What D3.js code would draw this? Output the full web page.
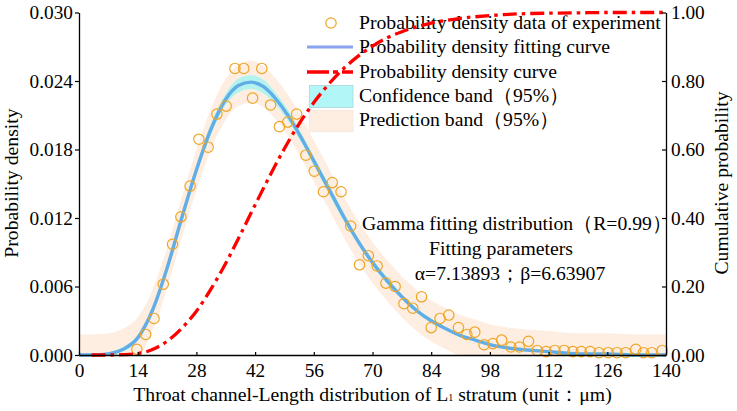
<!DOCTYPE html>
<html>
<head>
<meta charset="utf-8">
<script src="https://cdn.jsdelivr.net/npm/d3@7"></script>
<style>
  body { margin: 0; background: #fff; }
  svg text { font-family: "Liberation Serif", "Times New Roman", serif; fill: #000; }
</style>
</head>
<body>
<div id="vis"></div>
<script>
// experimental probability density points (length, density)
var dataX = [13.8, 15.9, 17.9, 20.1, 22.3, 24.3, 26.5, 28.6, 30.8, 32.9,
    35.1, 37.2, 39.3, 41.4, 43.6, 45.7, 47.8, 49.8, 51.9, 54.1,
    56.1, 58.3, 60.4, 62.5, 64.8, 66.9, 69.0, 71.1, 73.2, 75.4,
    77.5, 79.6, 81.7, 84.0, 86.1, 88.2, 90.5, 92.5, 94.4, 96.6,
    98.7, 100.8, 103.0, 105.0, 107.2, 109.3, 111.4, 113.5, 115.7, 117.8,
    119.8, 121.9, 124.0, 126.2, 128.3, 130.4, 132.8, 134.6, 136.6, 139.1];
var dataY = [0.0005, 0.0018, 0.0032, 0.0062, 0.0097, 0.0121, 0.0148, 0.0189, 0.0182, 0.0211,
    0.0218, 0.0251, 0.0251, 0.0225, 0.0251, 0.0219, 0.0200, 0.0204, 0.0211, 0.0175,
    0.0161, 0.0143, 0.0151, 0.0143, 0.0113, 0.0079, 0.0087, 0.0078, 0.0063, 0.0060,
    0.0045, 0.0041, 0.0051, 0.0024, 0.0032, 0.0035, 0.0024, 0.0018, 0.0020, 0.0009,
    0.0010, 0.0013, 0.0007, 0.0007, 0.0012, 0.0004, 0.0003, 0.0004, 0.0004, 0.0003,
    0.0003, 0.0003, 0.0002, 0.0002, 0.0002, 0.0002, 0.0005, 0.0002, 0.0002, 0.0004];

// fitted curve and bands
var curveX = [0, 3.5, 7, 10.5, 14, 17.5, 21, 24.5, 28, 31.5,
    35, 38, 41, 44, 47, 50, 53.5, 56, 59.5, 63,
    66.5, 70, 73.5, 77, 80.5, 84, 87.5, 91, 94.5, 98,
    105, 112, 119, 126, 133, 140];
var fitY = [0, 0, 0.0001, 0.0005, 0.0015, 0.0039, 0.0076, 0.0120, 0.0162, 0.0198,
    0.0224, 0.0236, 0.0239, 0.0235, 0.0224, 0.0209, 0.0187, 0.0170, 0.0146, 0.0122,
    0.0100, 0.0081, 0.0065, 0.0051, 0.0039, 0.0030, 0.0023, 0.0017, 0.0013, 0.0009,
    0.0005, 0.0003, 0.0001, 0.0001, 0, 0];
var predUpper = [0.0018, 0.0018, 0.0019, 0.0023, 0.0033, 0.0057, 0.0094, 0.0138, 0.0180, 0.0216,
    0.0242, 0.0254, 0.0258, 0.0253, 0.0242, 0.0227, 0.0205, 0.0188, 0.0164, 0.0140,
    0.0118, 0.0099, 0.0083, 0.0069, 0.0057, 0.0048, 0.0041, 0.0035, 0.0031, 0.0027,
    0.0023, 0.0021, 0.0019, 0.0019, 0.0018, 0.0018];
var predLower = [0, 0, 0, 0, 0, 0.0021, 0.0058, 0.0102, 0.0144, 0.0180,
    0.0206, 0.0218, 0.0221, 0.0217, 0.0206, 0.0191, 0.0169, 0.0152, 0.0128, 0.0104,
    0.0082, 0.0063, 0.0047, 0.0033, 0.0021, 0.0012, 0.0005, 0, 0, 0,
    0, 0, 0, 0, 0, 0];
var confUpper = [0.0001, 0.0001, 0.0002, 0.0007, 0.0017, 0.0042, 0.0079, 0.0124, 0.0166, 0.0203,
    0.0229, 0.0242, 0.0245, 0.0241, 0.0229, 0.0214, 0.0191, 0.0174, 0.0150, 0.0126,
    0.0103, 0.0084, 0.0068, 0.0053, 0.0041, 0.0032, 0.0024, 0.0018, 0.0014, 0.0010,
    0.0006, 0.0004, 0.0002, 0.0002, 0.0001, 0.0001];
var confLower = [0, 0, 0, 0.0003, 0.0013, 0.0036, 0.0073, 0.0116, 0.0158, 0.0193,
    0.0219, 0.0230, 0.0233, 0.0229, 0.0219, 0.0204, 0.0183, 0.0166, 0.0142, 0.0118,
    0.0097, 0.0078, 0.0062, 0.0049, 0.0037, 0.0028, 0.0022, 0.0016, 0.0012, 0.0008,
    0.0004, 0.0002, 0, 0, 0, 0];

// cumulative probability curve (right axis)
var cdfX = [3, 7, 10.5, 14, 17.5, 21, 24.5, 28, 31.5, 35,
    38.5, 42, 45.5, 49, 52.5, 56, 59.5, 63, 66.5, 70,
    73.5, 77, 80.5, 84, 87.5, 91, 98, 105, 112, 119,
    126, 133, 140];
var cdfY = [0, 0, 0.001, 0.004, 0.016, 0.040, 0.078, 0.128, 0.193, 0.268,
    0.352, 0.438, 0.523, 0.603, 0.675, 0.737, 0.790, 0.835, 0.872, 0.902,
    0.926, 0.944, 0.958, 0.969, 0.977, 0.983, 0.991, 0.996, 0.998, 0.999,
    1.0, 1.0, 1.0];

var xTicks = [0, 14, 28, 42, 56, 70, 84, 98, 112, 126, 140];
var yTicks = [0, 0.006, 0.012, 0.018, 0.024, 0.030];
var y2Ticks = [0, 0.2, 0.4, 0.6, 0.8, 1.0];

var legendLabels = ["Probability density data of experiment", "Probability density fitting curve",
    "Probability density curve", "Confidence band\uFF0895%\uFF09", "Prediction band\uFF0895%\uFF09"];
var noteLines = ["Gamma fitting distribution\uFF08R=0.99\uFF09", "Fitting parameters",
    "\u03B1=7.13893\uFF1B\u03B2=6.63907"];

var width = 737;
var height = 411;
var plotLeft = 79, plotRight = 666, plotTop = 12.5, plotBottom = 355;

var svg = d3.select('#vis').append('svg').attr('width', width).attr('height', height);

var x = d3.scaleLinear().domain([0, 140]).range([plotLeft, plotRight]);
var y = d3.scaleLinear().domain([0, 0.03]).range([plotBottom, plotTop]);
var y2 = d3.scaleLinear().domain([0, 1]).range([plotBottom, plotTop]);

var peach = '#fdeee1';
var cyan = '#b2f3ef';
var fitBlue = '#62ade5';
var dotOrange = '#eea526';

// legend (the red curve runs over it)
var lg = svg.append('g');
var rowY = [23, 47, 72, 96, 120];
lg.append('circle').attr('cx', 331).attr('cy', rowY[0]).attr('r', 5.2)
    .attr('fill', 'none').attr('stroke', dotOrange).attr('stroke-width', 1.2);
lg.append('line').attr('x1', 307).attr('x2', 353).attr('y1', rowY[1]).attr('y2', rowY[1])
    .attr('stroke', '#8aa4ef').attr('stroke-width', 3);
lg.append('line').attr('x1', 307).attr('x2', 353).attr('y1', rowY[2]).attr('y2', rowY[2])
    .attr('stroke', '#ff0000').attr('stroke-width', 3.3).attr('stroke-dasharray', '22,4,5,4');
lg.append('rect').attr('x', 309.5).attr('y', 85.5).attr('width', 43.5).attr('height', 22)
    .attr('fill', '#b3f6f8').attr('stroke', '#a8d8dc').attr('stroke-width', 0.8);
lg.append('rect').attr('x', 309.5).attr('y', 110.5).attr('width', 43.5).attr('height', 21)
    .attr('fill', peach).attr('stroke', '#f3e6dc').attr('stroke-width', 0.8);
lg.selectAll('text.lab').data(legendLabels).enter().append('text')
    .attr('class', 'lab')
    .attr('x', 359)
    .attr('y', function(d, i) { return rowY[i] + 6; })
    .attr('font-size', 19.7)
    .text(function(d) { return d; });

// bands
var band = function(lo, hi) {
    return d3.area()
        .x(function(d, i) { return x(curveX[i]); })
        .y0(function(d, i) { return y(lo[i]); })
        .y1(function(d, i) { return y(hi[i]); })
        .curve(d3.curveMonotoneX);
};
svg.append('path').datum(curveX).attr('d', band(predLower, predUpper)).attr('fill', peach);
svg.append('path').datum(curveX).attr('d', band(confLower, confUpper)).attr('fill', cyan);

// fitted curve
var fitLine = d3.line()
    .x(function(d, i) { return x(curveX[i]); })
    .y(function(d, i) { return y(fitY[i]); })
    .curve(d3.curveMonotoneX);
svg.append('path').datum(curveX).attr('d', fitLine)
    .attr('fill', 'none').attr('stroke', fitBlue).attr('stroke-width', 3.4);

// experiment points
svg.append('g').selectAll('circle').data(dataX).enter().append('circle')
    .attr('cx', function(d) { return x(d); })
    .attr('cy', function(d, i) { return y(dataY[i]); })
    .attr('r', 5.2)
    .attr('fill', 'none')
    .attr('stroke', dotOrange)
    .attr('stroke-width', 1.2);

// cumulative curve
var cdfLine = d3.line()
    .x(function(d, i) { return x(cdfX[i]); })
    .y(function(d, i) { return y2(cdfY[i]); })
    .curve(d3.curveMonotoneX);
svg.append('path').datum(cdfX).attr('d', cdfLine)
    .attr('fill', 'none').attr('stroke', '#ff0000').attr('stroke-width', 3.3)
    .attr('stroke-dasharray', '14,5,3.5,5');

// axes
var xAxis = d3.axisBottom(x).tickValues(xTicks).tickSizeInner(-3).tickSizeOuter(0).tickPadding(8)
    .tickFormat(d3.format('d'));
var yAxis = d3.axisLeft(y).tickValues(yTicks).tickSizeInner(4).tickSizeOuter(0).tickPadding(2)
    .tickFormat(d3.format('.3f'));
var y2Axis = d3.axisRight(y2).tickValues(y2Ticks).tickSizeInner(-4).tickSizeOuter(0).tickPadding(5)
    .tickFormat(d3.format('.2f'));

function styleAxis(g) {
    g.select('.domain').attr('stroke', '#000').attr('stroke-width', 1.3);
    g.selectAll('.tick line').attr('stroke', '#000').attr('stroke-width', 1.2);
    g.selectAll('.tick text').attr('font-size', 19.3).attr('font-family', '"Liberation Serif", serif');
}
svg.append('g').attr('transform', 'translate(0,' + plotBottom + ')').call(xAxis).call(styleAxis);
svg.append('g').attr('transform', 'translate(' + plotLeft + ',0)').call(yAxis).call(styleAxis);
svg.append('g').attr('transform', 'translate(' + plotRight + ',0)').call(y2Axis).call(styleAxis);

// axis titles
svg.append('text').attr('transform', 'translate(18,183) rotate(-90)')
    .attr('text-anchor', 'middle').attr('font-size', 19.7).text('Probability density');
svg.append('text').attr('transform', 'translate(728,183) rotate(-90)')
    .attr('text-anchor', 'middle').attr('font-size', 19.7).text('Cumulative probability');
var xt = svg.append('text').attr('x', (plotLeft + plotRight) / 2).attr('y', 401)
    .attr('text-anchor', 'middle').attr('font-size', 19.7);
xt.append('tspan').text('Throat channel-Length distribution of L');
xt.append('tspan').attr('font-size', 10).text('1');
xt.append('tspan').text(' stratum (unit\uFF1A\u03BCm)');

// fit annotation
var noteShift = [7, -9, 0];
svg.append('g').selectAll('text').data(noteLines).enter().append('text')
    .attr('x', function(d, i) { return 510 + noteShift[i]; })
    .attr('y', function(d, i) { return 230 + i * 25; })
    .attr('text-anchor', 'middle')
    .attr('font-size', 19.7)
    .text(function(d) { return d; });
</script>
</body>
</html>
